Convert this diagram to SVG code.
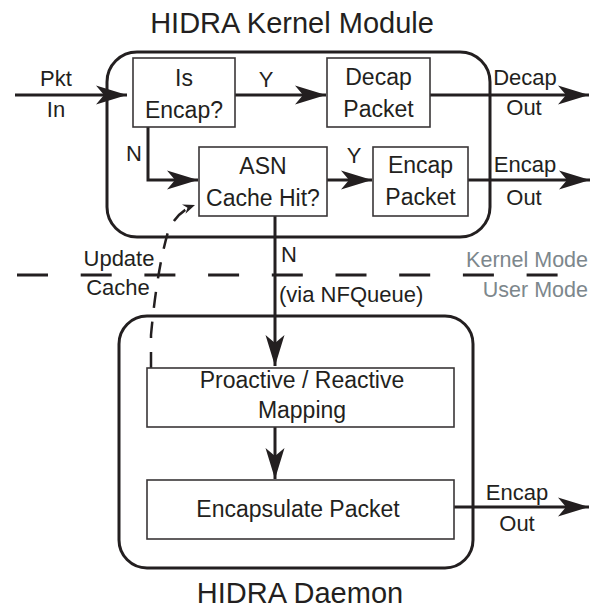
<svg xmlns="http://www.w3.org/2000/svg" width="601" height="610" viewBox="0 0 601 610">
<style>
text{font-family:"Liberation Sans",Arial,sans-serif;fill:#231f20;text-anchor:middle}
.t{font-size:23px}
.l{font-size:22px}
.h{font-size:29px}
.m{font-size:21.5px;fill:#7d878c;text-anchor:end}
.big{fill:none;stroke:#231f20;stroke-width:3}
.box{fill:#fff;stroke:#3a3637;stroke-width:1.6}
.c{fill:none;stroke:#231f20;stroke-width:3}
</style>
<defs>
<marker id="ah" markerUnits="userSpaceOnUse" markerWidth="34" markerHeight="22" viewBox="-32 -11 34 22" refX="0" refY="0" orient="auto">
<path d="M0,0 L-31,-9.5 L-23,0 L-31,9.5 Z" fill="#231f20"/>
</marker>
<marker id="sm" markerUnits="userSpaceOnUse" markerWidth="14" markerHeight="12" viewBox="-13 -6 14 12" refX="0" refY="0" orient="auto">
<path d="M0,0 L-12,-5 L-8,0 L-12,5 Z" fill="#231f20"/>
</marker>
</defs>

<text class="h" x="292" y="33">HIDRA Kernel Module</text>
<text class="h" x="300" y="603">HIDRA Daemon</text>

<g id="kernel-module"><rect class="big" x="107" y="52" width="383" height="185" rx="30"/></g>
<g id="daemon"><rect class="big" x="119" y="316" width="354" height="252" rx="28"/></g>

<g id="connectors">
<path class="c" d="M15,95 H127" marker-end="url(#ah)"/>
<path class="c" d="M235,95 H326" marker-end="url(#ah)"/>
<path class="c" d="M430,95 H589" marker-end="url(#ah)"/>
<path class="c" d="M148,127 V180 H198" marker-end="url(#ah)"/>
<path class="c" d="M327,180 H372" marker-end="url(#ah)"/>
<path class="c" d="M468,180 H590" marker-end="url(#ah)"/>
<path class="c" d="M275,216 V366" marker-end="url(#ah)"/>
<path class="c" d="M275,427 V479" marker-end="url(#ah)"/>
<path class="c" d="M454,507 H589" marker-end="url(#ah)"/>
<path fill="none" stroke="#231f20" stroke-width="2.5" stroke-dasharray="16 14" d="M151,368 L151,335 Q157,270 168,232 Q176,212 195,205" marker-end="url(#sm)"/>
<line x1="17" y1="275" x2="560" y2="275" stroke="#231f20" stroke-width="3" stroke-dasharray="31 32.7"/>
</g>

<g id="is-encap"><rect class="box" x="133" y="58" width="102" height="69"/>
<text class="t" x="184" y="86">Is</text><text class="t" x="184" y="118">Encap?</text></g>
<g id="decap-packet"><rect class="box" x="327" y="58" width="103" height="69"/>
<text class="t" x="378.5" y="85">Decap</text><text class="t" x="378.5" y="117">Packet</text></g>
<g id="asn-cache"><rect class="box" x="199" y="147" width="128" height="69"/>
<text class="t" x="263" y="174">ASN</text><text class="t" x="263" y="206">Cache Hit?</text></g>
<g id="encap-packet"><rect class="box" x="373" y="147" width="95" height="69"/>
<text class="t" x="420.5" y="173">Encap</text><text class="t" x="420.5" y="205">Packet</text></g>
<g id="mapping"><rect class="box" x="147" y="368" width="307" height="59"/>
<text class="t" x="302" y="388">Proactive / Reactive</text><text class="t" x="302" y="418">Mapping</text></g>
<g id="encapsulate"><rect class="box" x="147" y="480" width="307" height="59"/>
<text class="t" x="298" y="517">Encapsulate Packet</text></g>

<g id="labels">
<text class="l" x="56" y="86">Pkt</text><text class="l" x="56" y="117">In</text>
<text class="l" x="266" y="87">Y</text>
<text class="l" x="134" y="161">N</text>
<text class="l" x="354" y="163">Y</text>
<text class="l" x="525" y="85">Decap</text><text class="l" x="524" y="115">Out</text>
<text class="l" x="525" y="172">Encap</text><text class="l" x="524" y="205">Out</text>
<text class="l" x="119" y="266">Update</text><text class="l" x="118" y="295">Cache</text>
<text class="l" x="281" y="262" style="text-anchor:start">N</text>
<text class="l" x="279" y="302" style="text-anchor:start">(via NFQueue)</text>
<text class="m" x="588" y="267">Kernel Mode</text>
<text class="m" x="588" y="297">User Mode</text>
<text class="l" x="517" y="500">Encap</text><text class="l" x="517" y="531">Out</text>
</g>
</svg>
